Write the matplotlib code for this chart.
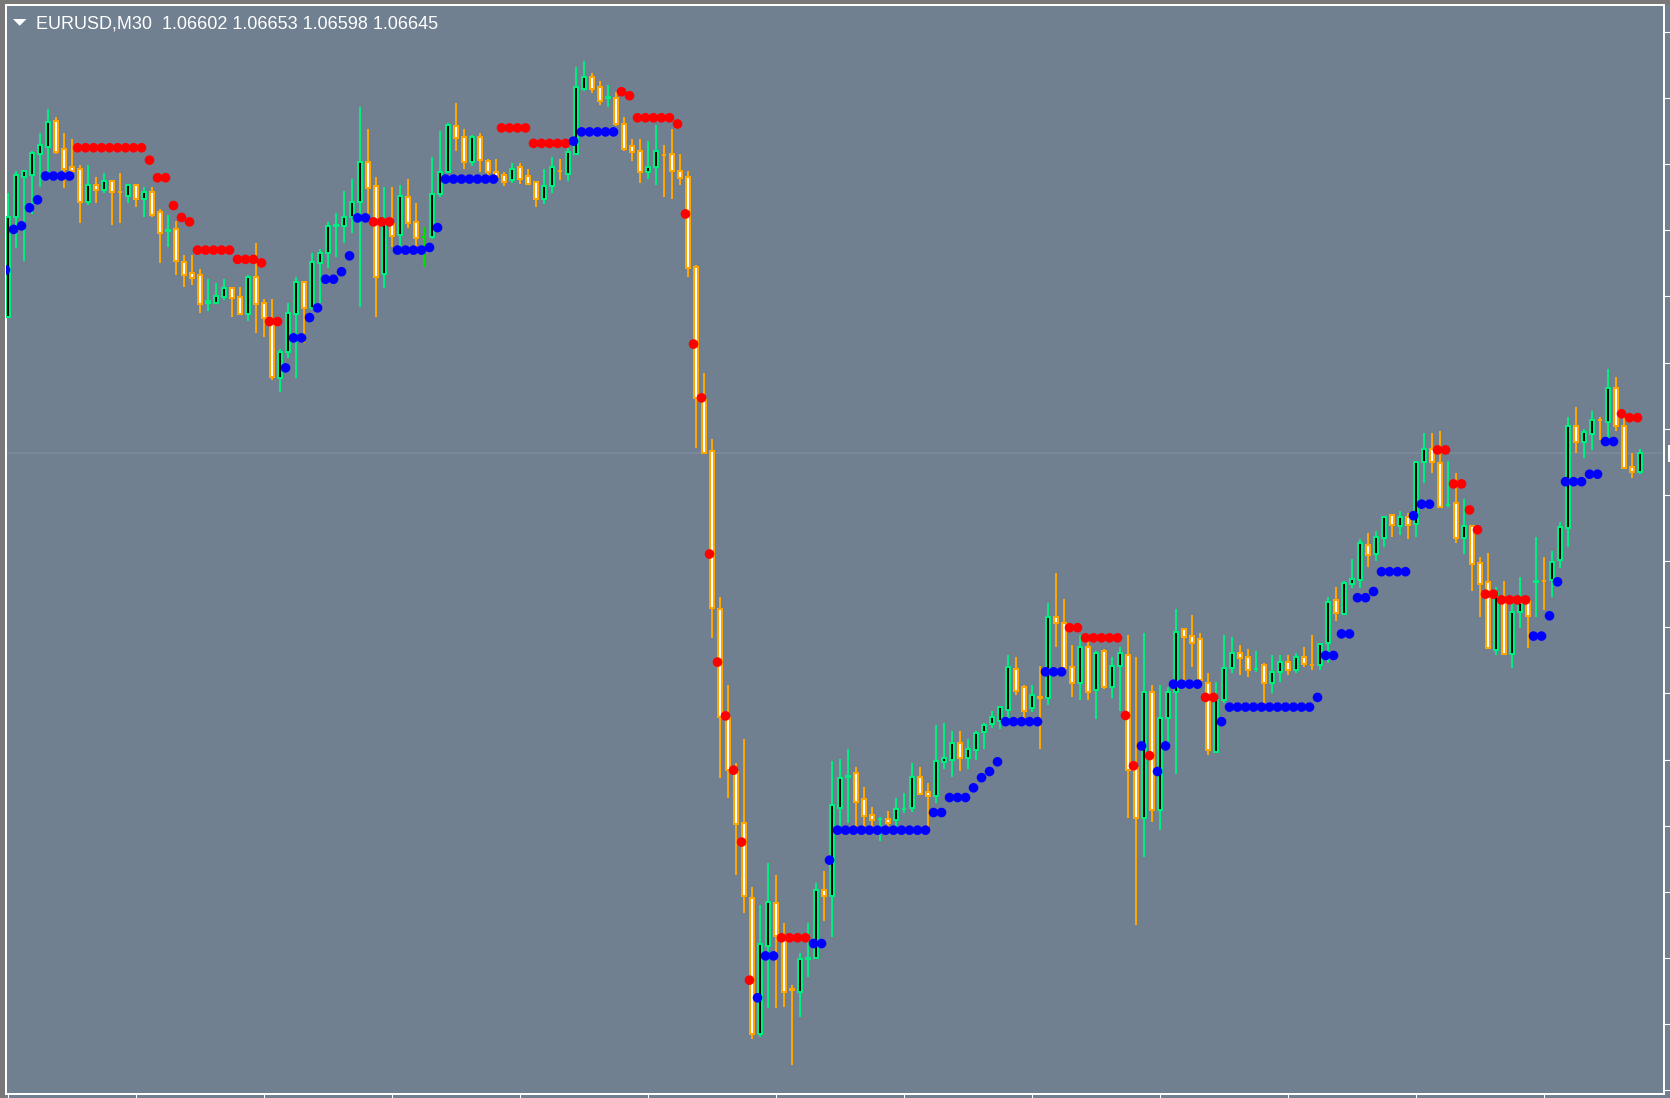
import numpy as np
import matplotlib
matplotlib.use("Agg")
import matplotlib.pyplot as plt
from matplotlib.patches import Rectangle, Polygon

# EURUSD M30, prices in points (1e-5), bar 0 = leftmost
opens = [
    106954, 107181, 107271, 107275, 107322, 107339, 107398, 107334, 107293, 107289,
    107213, 107252, 107241, 107262, 107237, 107228, 107252, 107222, 107237, 107192,
    107148, 107152, 107079, 107052, 107048, 106984, 106986, 106999, 107020, 106998,
    106960, 107043, 106984, 106939, 106814, 106875, 106960, 107033, 106973, 107075,
    107098, 107160, 107160, 107179, 107215, 107305, 107250, 107051, 107164, 107139,
    107225, 107169, 107134, 107134, 107232, 107283, 107387, 107361, 107305, 107361,
    107308, 107283, 107275, 107264, 107293, 107274, 107260, 107222, 107250, 107285,
    107278, 107324, 107470, 107497, 107474, 107450, 107450, 107392, 107342, 107330,
    107281, 107294, 107321, 107324, 107284, 107271, 107067, 106765, 106650, 106291,
    106044, 105923, 105806, 105637, 105328, 105527, 105624, 105550, 105429, 105424,
    105497, 105500, 105654, 105641, 105840, 105911, 105919, 105860, 105824, 105815,
    105815, 105813, 105837, 105840, 105910, 105877, 105868, 105945, 105949, 105987,
    105953, 105972, 106012, 106030, 106038, 106062, 106155, 106114, 106068, 106091,
    106089, 106273, 106259, 106159, 106124, 106205, 106108, 106197, 106115, 106162,
    106187, 105930, 105818, 106104, 105836, 106045, 106104, 106245, 106230, 106223,
    106123, 105968, 106085, 106157, 106191, 106182, 106155, 106164, 106123, 106148,
    106172, 106153, 106182, 106165, 106164, 106214, 106312, 106280, 106348, 106357,
    106436, 106415, 106452, 106505, 106480, 106499, 106483, 106624, 106653, 106622,
    106527, 106531, 106452, 106480, 106395, 106353, 106198, 106307, 106189, 106284,
    106310, 106353, 106356, 106357, 106403, 106474, 106707, 106671, 106688, 106720,
    106716, 106793, 106707, 106613, 106602,
]
highs = [
    107234, 107284, 107284, 107330, 107370, 107425, 107406, 107370, 107356, 107298,
    107298, 107270, 107279, 107262, 107279, 107256, 107256, 107247, 107247, 107198,
    107185, 107171, 107094, 107094, 107062, 107040, 107030, 107040, 107022, 107022,
    107049, 107120, 106994, 106994, 106880, 106984, 107043, 107033, 107098, 107107,
    107169, 107188, 107239, 107266, 107429, 107379, 107270, 107247, 107247, 107253,
    107266, 107211, 107157, 107315, 107375, 107394, 107438, 107379, 107366, 107370,
    107311, 107311, 107281, 107302, 107302, 107289, 107260, 107288, 107315, 107311,
    107336, 107521, 107534, 107507, 107488, 107479, 107464, 107406, 107357, 107357,
    107352, 107389, 107343, 107380, 107324, 107284, 107071, 106827, 106676, 106319,
    106119, 105942, 105996, 105661, 105620, 105715, 105688, 105579, 105439, 105511,
    105579, 105670, 105697, 105947, 105951, 105974, 105933, 105887, 105842, 105819,
    105834, 105864, 105874, 105942, 105933, 105896, 106028, 106032, 106015, 106015,
    105996, 106015, 106032, 106060, 106072, 106187, 106182, 106119, 106119, 106162,
    106306, 106372, 106313, 106210, 106233, 106217, 106197, 106200, 106182, 106205,
    106233, 106182, 106236, 106119, 106119, 106115, 106291, 106245, 106278, 106236,
    106146, 106127, 106233, 106227, 106210, 106200, 106196, 106168, 106187, 106187,
    106187, 106191, 106205, 106233, 106215, 106318, 106341, 106355, 106404, 106450,
    106463, 106468, 106499, 106505, 106514, 106508, 106627, 106691, 106691, 106695,
    106627, 106599, 106541, 106480, 106410, 106419, 106341, 106355, 106303, 106363,
    106312, 106454, 106409, 106423, 106489, 106726, 106749, 106699, 106740, 106726,
    106835, 106817, 106726, 106644, 106653,
]
lows = [
    106954, 107109, 107081, 107187, 107249, 107283, 107324, 107245, 107285, 107167,
    107207, 107212, 107235, 107162, 107167, 107212, 107203, 107181, 107181, 107076,
    107113, 107049, 107022, 107026, 106963, 106968, 106983, 106992, 106954, 106960,
    106945, 106918, 106909, 106811, 106783, 106860, 106814, 106894, 106969, 106984,
    107064, 107090, 107122, 107144, 106977, 107185, 106954, 107018, 107113, 107113,
    107154, 107113, 107067, 107130, 107226, 107281, 107330, 107290, 107296, 107281,
    107275, 107264, 107250, 107258, 107255, 107255, 107203, 107209, 107235, 107264,
    107262, 107321, 107466, 107462, 107434, 107430, 107386, 107330, 107307, 107258,
    107266, 107253, 107226, 107221, 107253, 107045, 106656, 106646, 106225, 105908,
    105862, 105688, 105603, 105317, 105322, 105386, 105386, 105390, 105258, 105367,
    105458, 105497, 105585, 105548, 105800, 105807, 105798, 105798, 105798, 105766,
    105786, 105798, 105830, 105832, 105871, 105790, 105852, 105928, 105911, 105925,
    105929, 105948, 105974, 106021, 106020, 106040, 106096, 106044, 106059, 105974,
    106074, 106206, 106153, 106093, 106084, 106084, 106042, 106109, 106089, 106061,
    105817, 105575, 105729, 105809, 105790, 105983, 105917, 106130, 106161, 106130,
    105960, 105964, 106078, 106146, 106142, 106138, 106148, 106078, 106102, 106125,
    106142, 106147, 106161, 106152, 106152, 106168, 106265, 106278, 106338, 106338,
    106387, 106401, 106433, 106455, 106459, 106450, 106455, 106578, 106600, 106520,
    106523, 106442, 106415, 106333, 106274, 106202, 106187, 106189, 106157, 106248,
    106202, 106274, 106288, 106319, 106384, 106433, 106646, 106633, 106652, 106675,
    106678, 106696, 106610, 106588, 106598,
]
closes = [
    107181, 107275, 107284, 107326, 107343, 107396, 107328, 107290, 107285, 107213,
    107252, 107241, 107262, 107236, 107236, 107252, 107222, 107237, 107185, 107144,
    107151, 107081, 107049, 107041, 106982, 106990, 107002, 107020, 106996, 106960,
    107043, 106983, 106950, 106818, 106875, 106962, 107033, 106973, 107079, 107098,
    107160, 107161, 107179, 107215, 107305, 107245, 107045, 107164, 107137, 107228,
    107167, 107132, 107134, 107232, 107283, 107389, 107359, 107305, 107361, 107309,
    107282, 107271, 107260, 107288, 107267, 107255, 107222, 107250, 107293, 107284,
    107328, 107474, 107497, 107470, 107444, 107451, 107391, 107335, 107327, 107281,
    107293, 107330, 107320, 107285, 107268, 107064, 106769, 106646, 106293, 106047,
    105926, 105804, 105641, 105328, 105532, 105628, 105550, 105424, 105428, 105497,
    105501, 105654, 105641, 105846, 105909, 105912, 105853, 105821, 105812, 105816,
    105807, 105837, 105838, 105910, 105871, 105868, 105947, 105954, 105987, 105953,
    105973, 106010, 106028, 106046, 106069, 106159, 106105, 106061, 106096, 106090,
    106273, 106259, 106157, 106124, 106205, 106104, 106191, 106114, 106163, 106191,
    105926, 105817, 106104, 105836, 106045, 106104, 106240, 106229, 106215, 106130,
    105972, 106085, 106158, 106191, 106180, 106152, 106156, 106124, 106149, 106172,
    106153, 106182, 106167, 106164, 106212, 106308, 106283, 106350, 106359, 106440,
    106414, 106454, 106499, 106482, 106499, 106482, 106625, 106653, 106624, 106523,
    106528, 106452, 106480, 106393, 106348, 106202, 106327, 106189, 106285, 106306,
    106276, 106354, 106355, 106399, 106477, 106707, 106671, 106693, 106720, 106719,
    106793, 106707, 106610, 106603, 106645,
]

# indicator dots: one per bar, b = support (blue), r = resistance (red)
dot_side = (
    "bbbbbbbbbr" "rrrrrrrrrr" "rrrrrrrrrr" "rrrrrbbbbb" "bbbbbbrrrb"
    "bbbbbbbbbb" "bbrrrrrrrr" "rbbbbbbrrr" "rrrrrrrrrr" "rrrrbbbrrr"
    "rbbbbbbbbb" "bbbbbbbbbb" "bbbbbbbbbb" "bbbrrrrrrr" "rrbrbbbbbb"
    "rrbbbbbbbb" "bbbbbbbbbb" "bbbbbbbbbr" "rrrrrrrrrr" "rbbbbbbbbb"
    "bbrrr"
)
dot_level = [
    107060, 107152, 107160, 107201, 107219, 107273, 107273, 107273, 107273, 107337,
    107337, 107337, 107337, 107337, 107337, 107337, 107337, 107337, 107309, 107269,
    107269, 107206, 107179, 107169, 107105, 107105, 107105, 107105, 107105, 107084,
    107084, 107084, 107076, 106943, 106943, 106838, 106906, 106906, 106952, 106974,
    107039, 107039, 107056, 107092, 107178, 107178, 107169, 107169, 107169, 107105,
    107105, 107105, 107105, 107111, 107156, 107266, 107266, 107266, 107266, 107266,
    107266, 107266, 107382, 107382, 107382, 107382, 107347, 107347, 107347, 107347,
    107347, 107352, 107373, 107373, 107373, 107373, 107373, 107464, 107455, 107405,
    107405, 107405, 107405, 107405, 107391, 107187, 106892, 106770, 106416, 106171,
    106049, 105926, 105763, 105450, 105410, 105505, 105505, 105546, 105546, 105546,
    105546, 105533, 105533, 105722, 105790, 105790, 105790, 105790, 105790, 105790,
    105790, 105790, 105790, 105790, 105790, 105790, 105830, 105830, 105864, 105864,
    105864, 105886, 105909, 105923, 105945, 106036, 106036, 106036, 106036, 106036,
    106149, 106149, 106149, 106249, 106249, 106226, 106226, 106226, 106226, 106226,
    106050, 105936, 105981, 105959, 105923, 105981, 106121, 106121, 106121, 106121,
    106091, 106091, 106036, 106069, 106069, 106069, 106069, 106069, 106069, 106069,
    106069, 106069, 106069, 106069, 106091, 106186, 106186, 106235, 106235, 106317,
    106317, 106331, 106376, 106376, 106376, 106376, 106503, 106529, 106529, 106652,
    106652, 106575, 106575, 106516, 106471, 106325, 106325, 106312, 106312, 106312,
    106312, 106230, 106230, 106276, 106353, 106580, 106580, 106580, 106597, 106597,
    106671, 106671, 106734, 106725, 106725,
]

title = "EURUSD,M30  1.06602 1.06653 1.06598 1.06645"
price_ticks = [1.0520 + 0.0015 * k for k in range(17)]
time_ticks = list(range(0, 205, 16))

BG = "#708090"
FRAME = "#787878"
UP = "#00EE80"
DOWN = "#FFA500"
DOJI = "#00E000"

W, H = 1670, 1098
fig = plt.figure(figsize=(W / 100, H / 100), dpi=100, facecolor=BG)

def fx(x):
    return x / W

def fy(y):
    return 1 - y / H

# window frame strip on top and left
fig.add_artist(Rectangle((0, fy(4.5)), 1, 4.5 / H, transform=fig.transFigure,
                         color=FRAME, lw=0, zorder=0))
fig.add_artist(Rectangle((0, 0), 4.7 / W, 1, transform=fig.transFigure,
                         color=FRAME, lw=0, zorder=0))

left, right, top, bottom = 5.7, 1664, 5.3, 1093.5
ax = fig.add_axes([fx(left), fy(bottom), (right - left) / W, (bottom - top) / H])
ax.set_facecolor(BG)

o = np.array(opens) / 1e5
h = np.array(highs) / 1e5
l = np.array(lows) / 1e5
c = np.array(closes) / 1e5
idx = np.arange(len(o))

edge = np.where(c > o, UP, np.where(c < o, DOWN, DOJI))
fill = np.where(c > o, "black", np.where(c < o, "white", DOJI))

ax.axhline(c[-1], color="#7d8999", lw=1.3, zorder=1)
ax.vlines(idx, l, h, colors=edge, linewidth=1.44, zorder=2, antialiased=False)
ax.bar(idx, np.abs(c - o), bottom=np.minimum(o, c), width=0.5, color=fill,
       edgecolor=edge, linewidth=1.44, zorder=3, antialiased=False)

dot_colors = ["#0000FF" if s == "b" else "#FF0000" for s in dot_side]
ax.scatter(idx - 0.31, np.array(dot_level) / 1e5, s=48, c=dot_colors,
           marker="o", linewidths=0, zorder=4)

# pixel -> price mapping of the frame
ax.set_xlim((left - 8) / 8, (right - 8) / 8)
ax.set_ylim((107672 - 2.267 * bottom) / 1e5, (107672 - 2.267 * top) / 1e5)

for s in ax.spines.values():
    s.set_color("white")
    s.set_linewidth(1.44)
ax.yaxis.tick_right()
ax.set_yticks(price_ticks)
ax.set_xticks(time_ticks)
ax.tick_params(axis="both", direction="out", length=5, width=0.8, colors="white",
               labelright=False, labelleft=False, labelbottom=False)

# start of the bid price label, cut by the window edge
fig.add_artist(Rectangle((fx(1667.5), fy(462)), 3 / W, 17 / H, transform=fig.transFigure,
                         color="white", lw=0, zorder=5))

fig.add_artist(Polygon([(fx(13), fy(19)), (fx(26.5), fy(19)), (fx(19.7), fy(25.8))],
                       closed=True, transform=fig.transFigure, color="white", lw=0, zorder=5))
fig.text(fx(36), fy(28.3), title, color="white", fontsize=13,
         family="Liberation Sans", ha="left", va="baseline", zorder=5)

fig.savefig("out.png", dpi=100, facecolor=BG)
